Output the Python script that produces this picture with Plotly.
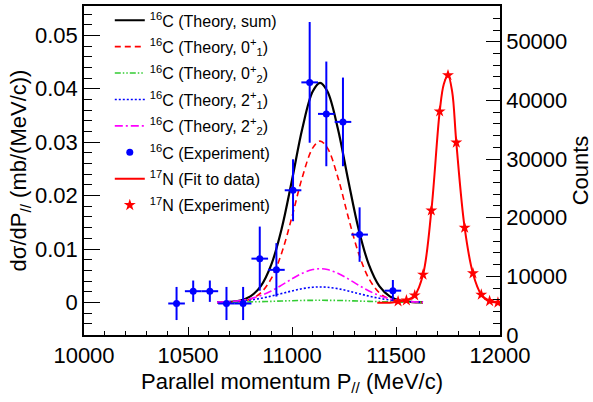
import plotly.graph_objects as go

# ---------------- data ----------------
# 16C theory curves
theory_x = [10640, 10700, 10750, 10800, 10850, 10900, 10950, 11000, 11050, 11100, 11135,
            11170, 11220, 11270, 11320, 11370, 11420, 11470, 11520, 11570, 11630]
theory_sum = [0.000016, 0.0001, 0.00036, 0.00113, 0.00305, 0.00702, 0.01375, 0.02293, 0.03263, 0.03952, 0.0411,
              0.03952, 0.03263, 0.02293, 0.01375, 0.00702, 0.00305, 0.00113, 0.00036, 0.0001, 0.000016]
theory_01 = [0.000006, 0.00004, 0.000175, 0.00061, 0.0018, 0.00444, 0.00921, 0.01604, 0.0235, 0.02893, 0.0302,
             0.02893, 0.0235, 0.01604, 0.00921, 0.00444, 0.0018, 0.00061, 0.000175, 0.00004, 0.000006]
theory_02 = [0.00002, 0.00004, 0.00006, 0.0001, 0.00015, 0.0002, 0.00026, 0.00032, 0.00037, 0.00039, 0.0004,
             0.00039, 0.00037, 0.00032, 0.00026, 0.0002, 0.00015, 0.0001, 0.00006, 0.00004, 0.00002]
theory_21 = [0.00005, 0.00013, 0.00026, 0.00046, 0.00077, 0.00118, 0.00166, 0.00215, 0.00258, 0.00284, 0.0029,
             0.00284, 0.00258, 0.00215, 0.00166, 0.00118, 0.00077, 0.00046, 0.00026, 0.00013, 0.00005]
theory_22 = [0.000052, 0.000156, 0.00035, 0.0007, 0.00129, 0.00214, 0.00323, 0.00441, 0.00547, 0.00615, 0.0063,
             0.00615, 0.00547, 0.00441, 0.00323, 0.00214, 0.00129, 0.0007, 0.00035, 0.000156, 0.000052]

# 16C experiment
c16_x = [10445, 10525, 10605, 10685, 10765, 10845, 10925, 11005, 11085, 11165, 11245, 11325, 11485]
c16_y = [-0.0002, 0.0021, 0.0021, -0.0002, -0.0002, 0.0082, 0.0061, 0.0210, 0.0412, 0.0353, 0.0338, 0.0127, 0.0022]
c16_yerr = [0.0031, 0.002, 0.002, 0.0031, 0.0031, 0.006, 0.005, 0.0058, 0.0113, 0.0098, 0.0083, 0.0051, 0.002]
c16_xerr = [40] * len(c16_x)

# 17N fit and experiment (counts)
n17_fit_x = [11410, 11470, 11510, 11550, 11590, 11630, 11670, 11710, 11730, 11750, 11770, 11790,
             11830, 11870, 11910, 11950, 11990, 12000]
n17_fit_y = [5500, 5520, 5700, 5900, 6750, 10300, 21200, 38100, 42800, 44300, 41500, 32800,
             18300, 10500, 6900, 5800, 5520, 5500]
n17_x = [11510, 11550, 11590, 11630, 11670, 11710, 11750, 11790, 11830, 11870, 11910, 11950, 11990]
n17_y = [5740, 5910, 6760, 10300, 21230, 38120, 44300, 32820, 18290, 10520, 6880, 5790, 5520]

x_ticks = [10000, 10500, 11000, 11500, 12000]

FONT = "Liberation Sans, Arial, sans-serif"

fig = go.Figure()

def theory(y, name, color, dash, width=1.6, group=None):
    fig.add_trace(go.Scatter(x=theory_x, y=y, mode="lines", name=name,
                             line=dict(color=color, dash=dash, width=width, shape="spline"),
                             legendgroup=group))

theory(theory_sum, "<sup>16</sup>C (Theory, sum)", "black", "solid", 2.2, "a")
theory(theory_01, "<sup>16</sup>C (Theory, 0<sup>+</sup><sub>1</sub>)", "#ff0000", "6px,4px", 1.6, "b")
theory(theory_02, "<sup>16</sup>C (Theory, 0<sup>+</sup><sub>2</sub>)", "#33cc33", "6px,2px,1.5px,2px,1.5px,2px", 1.6, "c")
theory(theory_21, "<sup>16</sup>C (Theory, 2<sup>+</sup><sub>1</sub>)", "#0000ff", "2px,2px", 1.6, "d")
theory(theory_22, "<sup>16</sup>C (Theory, 2<sup>+</sup><sub>2</sub>)", "#ff00ff", "8px,3px,2px,3px", 1.6, "e")

fig.add_trace(go.Scatter(
    x=c16_x, y=c16_y, mode="markers", name="<sup>16</sup>C (Experiment)",
    marker=dict(color="#0000ff", size=7, symbol="circle"),
    error_y=dict(type="data", array=c16_yerr, color="#0000ff", thickness=2, width=0),
    error_x=dict(type="data", array=c16_xerr, color="#0000ff", thickness=2, width=0),
    legendgroup="f"))

fig.add_trace(go.Scatter(
    x=n17_fit_x, y=n17_fit_y, mode="lines", name="<sup>17</sup>N (Fit to data)",
    line=dict(color="#ff0000", width=2, shape="spline"), yaxis="y2", legendgroup="g"))

fig.add_trace(go.Scatter(
    x=n17_x, y=n17_y, mode="markers", name="<sup>17</sup>N (Experiment)",
    marker=dict(color="#ff0000", size=9, symbol="star"), yaxis="y2", legendgroup="h"))

axis_common = dict(showline=True, linecolor="black", linewidth=1.5, ticks="inside",
                   tickcolor="black", tickwidth=1.2, showgrid=False, zeroline=False,
                   automargin=False,
                   tickfont=dict(family=FONT, size=22, color="black"))

fig.update_layout(
    width=593, height=402,
    margin=dict(l=84, r=93, t=3, b=67),
    paper_bgcolor="white", plot_bgcolor="white",
    font=dict(family=FONT, color="black"),
    showlegend=True,
    legend=dict(x=0.062, y=1.008, xanchor="left", yanchor="top",
                bgcolor="rgba(0,0,0,0)", borderwidth=0, maxheight=400,
                font=dict(family=FONT, size=16, color="black"),
                tracegroupgap=2.6, itemwidth=30),
    xaxis=dict(range=[10000, 12000], tickvals=x_ticks, ticktext=[str(v) for v in x_ticks],
               ticklen=8, mirror=True,
               minor=dict(dtick=100, ticklen=4, tickcolor="black", ticks="inside", showgrid=False),
               title=dict(text="Parallel momentum P<sub>//</sub> (MeV/c)",
                          font=dict(family=FONT, size=22, color="black"), standoff=6),
               **axis_common),
    yaxis=dict(range=[-0.0061, 0.0555], dtick=0.01, tick0=0, tickformat=".2~f",
               ticklen=16,
               minor=dict(dtick=0.002, ticklen=8, tickcolor="black", ticks="inside", showgrid=False),
               title=dict(text="dσ/dP<sub>//</sub> (mb/(MeV/c))",
                          font=dict(family=FONT, size=22, color="black"), standoff=2),
               **axis_common),
    yaxis2=dict(range=[0, 56100], dtick=10000, tick0=0, tickformat="d",
                overlaying="y", side="right", ticklen=14,
                minor=dict(dtick=2000, ticklen=7, tickcolor="black", ticks="inside", showgrid=False),
                title=dict(text="Counts", font=dict(family=FONT, size=22, color="black"), standoff=6),
                **axis_common),
)

fig.write_html("out.html",
               config={"displayModeBar": False},
               post_script="document.body.style.margin='0px';document.body.style.overflow='hidden';")
